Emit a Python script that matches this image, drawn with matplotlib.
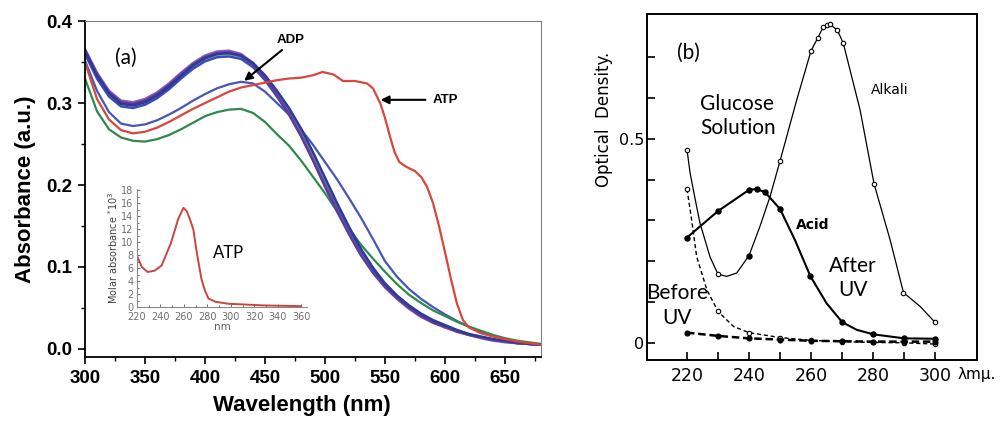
import numpy as np
import matplotlib.pyplot as plt
from matplotlib.ticker import MultipleLocator, FixedLocator

# ---- panel (a) data: absorbance spectra ----
wl = [300, 310, 320, 330, 340, 350, 360, 370, 380, 390, 400, 410, 420, 430, 440,
      450, 460, 470, 480, 490, 500, 510, 520, 530, 540, 550, 560, 570, 580, 590,
      600, 610, 620, 630, 640, 650, 660, 670, 680]

clu_purple = [0.365, 0.335, 0.313, 0.301, 0.299, 0.303, 0.311, 0.322, 0.335, 0.347, 0.356, 0.361, 0.362, 0.358, 0.347,
              0.330, 0.309, 0.287, 0.260, 0.230, 0.198, 0.168, 0.140, 0.114, 0.093, 0.076, 0.062, 0.050, 0.040, 0.032,
              0.027, 0.021, 0.017, 0.014, 0.011, 0.009, 0.007, 0.006, 0.005]
clu_blue = [0.360, 0.330, 0.308, 0.296, 0.294, 0.298, 0.306, 0.317, 0.330, 0.342, 0.351, 0.356, 0.357, 0.354, 0.344,
            0.328, 0.308, 0.286, 0.260, 0.231, 0.200, 0.171, 0.143, 0.117, 0.095, 0.077, 0.063, 0.051, 0.041, 0.033,
            0.027, 0.022, 0.017, 0.014, 0.011, 0.009, 0.007, 0.006, 0.005]
clu_teal = [0.362, 0.333, 0.311, 0.300, 0.298, 0.302, 0.310, 0.320, 0.333, 0.345, 0.354, 0.359, 0.360, 0.357, 0.347,
            0.331, 0.311, 0.289, 0.263, 0.234, 0.203, 0.173, 0.145, 0.119, 0.097, 0.079, 0.064, 0.052, 0.042, 0.034,
            0.028, 0.022, 0.018, 0.014, 0.011, 0.009, 0.007, 0.006, 0.005]
clu_violet = [0.366, 0.337, 0.315, 0.303, 0.301, 0.305, 0.313, 0.324, 0.337, 0.349, 0.358, 0.363, 0.364, 0.360, 0.349,
              0.332, 0.311, 0.288, 0.261, 0.231, 0.199, 0.169, 0.141, 0.115, 0.093, 0.075, 0.061, 0.049, 0.039, 0.032,
              0.026, 0.021, 0.017, 0.013, 0.010, 0.008, 0.007, 0.006, 0.005]
clu_navy = [0.363, 0.334, 0.312, 0.299, 0.297, 0.301, 0.309, 0.320, 0.333, 0.346, 0.355, 0.360, 0.361, 0.358, 0.349,
            0.334, 0.315, 0.294, 0.269, 0.240, 0.209, 0.178, 0.149, 0.122, 0.099, 0.080, 0.065, 0.053, 0.043, 0.035,
            0.029, 0.023, 0.018, 0.015, 0.012, 0.010, 0.008, 0.006, 0.005]
adp = [0.352, 0.315, 0.289, 0.275, 0.272, 0.274, 0.279, 0.286, 0.294, 0.303, 0.311, 0.318, 0.323, 0.326, 0.324,
       0.314, 0.300, 0.286, 0.268, 0.249, 0.228, 0.207, 0.184, 0.160, 0.134, 0.107, 0.088, 0.073, 0.061, 0.051,
       0.042, 0.034, 0.027, 0.021, 0.016, 0.012, 0.009, 0.007, 0.005]
green = [0.330, 0.290, 0.268, 0.258, 0.254, 0.253, 0.256, 0.261, 0.268, 0.276, 0.284, 0.289, 0.292, 0.293, 0.288,
         0.277, 0.262, 0.248, 0.230, 0.210, 0.190, 0.168, 0.147, 0.127, 0.110, 0.094, 0.079, 0.066, 0.056, 0.047,
         0.040, 0.033, 0.027, 0.022, 0.017, 0.013, 0.010, 0.008, 0.006]

atp_wl = [300, 310, 320, 330, 340, 350, 360, 370, 380, 390, 400, 410, 420, 430, 440, 450, 460, 470, 480, 490,
          498, 507, 515, 525, 535, 540, 546, 550, 554, 558, 562, 568, 575, 580, 585, 590, 595, 600, 605, 610,
          615, 620, 630, 640, 650, 660, 670, 680]
atp = [0.350, 0.305, 0.280, 0.267, 0.263, 0.265, 0.270, 0.277, 0.285, 0.293, 0.300, 0.307, 0.314, 0.319, 0.322,
       0.325, 0.328, 0.330, 0.331, 0.334, 0.338, 0.335, 0.327, 0.327, 0.324, 0.318, 0.300, 0.282, 0.260, 0.240,
       0.228, 0.222, 0.217, 0.210, 0.198, 0.178, 0.150, 0.118, 0.085, 0.055, 0.035, 0.026, 0.019, 0.015, 0.012,
       0.009, 0.007, 0.005]

# inset: ATP molar absorbance
ins_nm = [220, 224, 229, 235, 241, 249, 255, 259.6, 262.4, 265, 268, 271, 275, 278, 281, 287, 298, 310, 327, 340, 355, 360]
ins_abs = [7.9, 6.2, 5.4, 5.6, 6.4, 9.9, 13.5, 15.3, 14.8, 13.6, 12.0, 8.4, 4.3, 2.5, 1.3, 0.8, 0.5, 0.4, 0.25, 0.2, 0.15, 0.12]

# ---- panel (b) data: optical density ----
alk_x = [220, 221, 223.1, 224.2, 227.4, 230, 232.8, 236, 240, 243.5, 246.8, 250, 255.4, 260, 262.2, 264, 266.1,
         268.5, 270.4, 275.8, 280.3, 285.5, 289.8, 295.2, 300]
alk_y = [0.473, 0.416, 0.334, 0.293, 0.211, 0.168, 0.163, 0.171, 0.214, 0.285, 0.359, 0.446, 0.596, 0.716, 0.748,
         0.775, 0.781, 0.766, 0.734, 0.571, 0.390, 0.252, 0.123, 0.089, 0.050]
alk_mx = [220, 230, 250, 260, 262.2, 264, 265, 266.1, 268.5, 270.4, 280.3, 289.8, 300]
alk_my = [0.473, 0.168, 0.446, 0.716, 0.748, 0.775, 0.779, 0.781, 0.766, 0.734, 0.390, 0.123, 0.050]
alk_dot_x = [240]
alk_dot_y = [0.214]

acid_x = [220, 230, 240, 242.5, 245.2, 250, 254.8, 259.8, 265, 270, 274.7, 280, 290, 300]
acid_y = [0.258, 0.323, 0.375, 0.377, 0.369, 0.328, 0.252, 0.163, 0.097, 0.051, 0.032, 0.021, 0.011, 0.010]
acid_mx = [220, 230, 240, 242.5, 245.2, 250, 259.8, 270, 280, 290, 300]
acid_my = [0.258, 0.323, 0.375, 0.377, 0.369, 0.328, 0.163, 0.051, 0.021, 0.011, 0.010]

bef_x = [220, 221.5, 223.1, 226.4, 230, 235, 240, 250, 260, 270, 280, 290, 300]
bef_y = [0.377, 0.301, 0.212, 0.130, 0.077, 0.040, 0.025, 0.013, 0.006, 0.003, 0.001, 0.000, -0.003]
bef_mx = [220, 230, 240, 250, 260, 270, 280, 290, 300]
bef_my = [0.377, 0.077, 0.025, 0.013, 0.006, 0.003, 0.001, 0.000, -0.003]

aft_x = [220, 230, 240, 250, 260, 270, 280, 290, 300]
aft_y = [0.025, 0.017, 0.011, 0.008, 0.005, 0.004, 0.003, 0.003, 0.003]

fig = plt.figure(figsize=(10, 4.24), dpi=100)

# ================= panel (a) =================
ax = fig.add_axes([0.085, 0.158, 0.456, 0.792])
ax.plot(wl, adp, color='#4656b8', lw=1.6)
ax.plot(wl, green, color='#2e8a4c', lw=1.6)
ax.plot(wl, clu_teal, color='#6f9088', lw=1.8)
ax.plot(wl, clu_blue, color='#3b4db5', lw=1.8)
ax.plot(wl, clu_violet, color='#8a5bb8', lw=1.8)
ax.plot(wl, clu_purple, color='#5a3d9c', lw=1.8)
ax.plot(wl, clu_navy, color='#2e3a94', lw=1.8)
ax.plot(atp_wl, atp, color='#d9463c', lw=1.6)

ax.set_xlim(300, 680)
ax.set_ylim(-0.01, 0.4)
ax.xaxis.set_major_locator(MultipleLocator(50))
ax.xaxis.set_minor_locator(MultipleLocator(25))
ax.yaxis.set_major_locator(MultipleLocator(0.1))
ax.yaxis.set_minor_locator(MultipleLocator(0.05))
ax.tick_params(which='major', direction='out', length=5, width=1.2, pad=4)
ax.tick_params(which='minor', direction='out', length=3, width=1.0)
for lab in ax.get_xticklabels() + ax.get_yticklabels():
    lab.set_fontfamily('Liberation Sans')
    lab.set_fontweight('bold')
    lab.set_fontsize(13.5)
ax.xaxis.set_major_formatter(plt.FuncFormatter(lambda v, p: f"{v:.0f}"))
ax.yaxis.set_major_formatter(plt.FuncFormatter(lambda v, p: f"{v:.1f}"))
ax.spines['left'].set_linewidth(1.3)
ax.spines['bottom'].set_linewidth(1.3)
ax.spines['top'].set_color('#808080')
ax.spines['right'].set_color('#808080')
ax.set_xlabel('Wavelength (nm)', fontfamily='Liberation Sans', fontweight='bold', fontsize=16)
ax.set_ylabel('Absorbance (a.u.)', fontfamily='Liberation Sans', fontweight='bold', fontsize=16)
ax.xaxis.set_label_coords(0.476, -0.113)
ax.yaxis.set_label_coords(-0.108, 0.5)

ax.text(334, 0.355, '(a)', fontfamily='Lato', fontsize=15, ha='center', va='center')
ax.text(471, 0.377, 'ADP', fontfamily='Liberation Sans', fontweight='bold', fontsize=9.5,
        ha='center', va='center')
ax.annotate('', xy=(430.8, 0.325), xytext=(466, 0.367),
            arrowprops=dict(arrowstyle='-|>', color='black', lw=1.5, mutation_scale=12))
ax.text(600, 0.304, 'ATP', fontfamily='Liberation Sans', fontweight='bold', fontsize=9.5,
        ha='center', va='center')
ax.annotate('', xy=(544, 0.304), xytext=(586, 0.304),
            arrowprops=dict(arrowstyle='-|>', color='black', lw=1.5, mutation_scale=12))

# inset
ins = fig.add_axes([0.137, 1 - 307 / 424, 0.170, 118 / 424])
ins.plot(ins_nm, ins_abs, color='#c8463e', lw=1.4)
ins.set_xlim(220, 365)
ins.set_ylim(0, 18.2)
ins.xaxis.set_major_locator(FixedLocator([220, 240, 260, 280, 300, 320, 340, 360]))
ins.yaxis.set_major_locator(MultipleLocator(2))
ins.xaxis.set_minor_locator(MultipleLocator(10))
ins.yaxis.set_minor_locator(MultipleLocator(1))
ins.tick_params(which='both', direction='in', colors='#707070', labelsize=7, pad=3.5, length=2.5, width=0.7)
ins.tick_params(axis='y', pad=2.5)
ins.tick_params(which='minor', length=1.5)
for s in ['top', 'right']:
    ins.spines[s].set_visible(False)
for s in ['left', 'bottom']:
    ins.spines[s].set_color('#8a8a8a')
    ins.spines[s].set_linewidth(0.8)
ins.set_facecolor('none')
ins.set_xlabel('nm', fontsize=7.5, color='#606060', labelpad=0)
ins.set_ylabel('Molar absorbance $^{*}$10$^{3}$', fontsize=7, color='#404040', labelpad=1)
ins.text(285, 8.3, 'ATP', fontfamily='Lato', fontsize=12, ha='left', va='center')

# ================= panel (b) =================
bx = fig.add_axes([0.647, 0.151, 0.330, 0.816])
bx.plot(alk_x, alk_y, color='black', lw=0.9)
bx.plot(alk_mx, alk_my, ls='none', marker='o', ms=3.2, mfc='white', mec='black', mew=0.8)
bx.plot(alk_dot_x, alk_dot_y, ls='none', marker='o', ms=3.6, color='black')
bx.plot(acid_x, acid_y, color='black', lw=1.5)
bx.plot(acid_mx, acid_my, ls='none', marker='o', ms=3.6, color='black')
bx.plot(bef_x, bef_y, color='black', lw=1.0, ls=(0, (3, 2)))
bx.plot(bef_mx, bef_my, ls='none', marker='o', ms=3.2, mfc='white', mec='black', mew=0.8)
bx.plot(aft_x, aft_y, color='black', lw=1.8, ls=(0, (3, 1.5)))
bx.plot(aft_x, aft_y, ls='none', marker='o', ms=3.4, color='black')

bx.set_xlim(207.1, 313.5)
bx.set_ylim(-0.042, 0.806)
bx.xaxis.set_major_locator(FixedLocator([220, 240, 260, 280, 300]))
bx.xaxis.set_minor_locator(FixedLocator([230, 250, 270, 290]))
bx.yaxis.set_major_locator(FixedLocator([0, 0.5]))
bx.yaxis.set_minor_locator(FixedLocator([0.1, 0.2, 0.3, 0.4, 0.6, 0.7]))
bx.xaxis.set_major_formatter(plt.FuncFormatter(lambda v, p: f"{v:.0f}"))
bx.yaxis.set_major_formatter(plt.FuncFormatter(lambda v, p: '0' if v == 0 else f"{v:.1f}"))
bx.tick_params(which='both', direction='in', length=6, width=1.2, labelsize=12.5, pad=5)
bx.tick_params(axis='y', labelsize=11.5, pad=2)
for s in bx.spines.values():
    s.set_linewidth(1.4)
bx.set_ylabel('Optical  Density.', fontsize=12, labelpad=0)
bx.yaxis.set_label_coords(-0.102, 0.694)
fig.text(0.977, 1 - 375 / 424, 'λmμ.', fontsize=11, ha='center', va='center')

bx.text(285.5, 0.62, 'Alkali', fontsize=10, ha='center', va='center')
bx.text(260.6, 0.289, 'Acid', fontsize=10, fontweight='bold', ha='center', va='center')
bx.text(224.2, 0.556, 'Glucose\nSolution', fontfamily='Lato', fontsize=15, ha='left', va='center',
        linespacing=1.3)
bx.text(220.3, 0.711, '(b)', fontfamily='Lato', fontsize=15, ha='center', va='center')
bx.text(273.5, 0.159, 'After\nUV', fontfamily='Lato', fontsize=15, ha='center', va='center',
        linespacing=1.3)
bx.text(216.8, 0.091, 'Before\nUV', fontfamily='Lato', fontsize=15, ha='center', va='center',
        linespacing=1.3)

fig.savefig('out.png', dpi=100)
